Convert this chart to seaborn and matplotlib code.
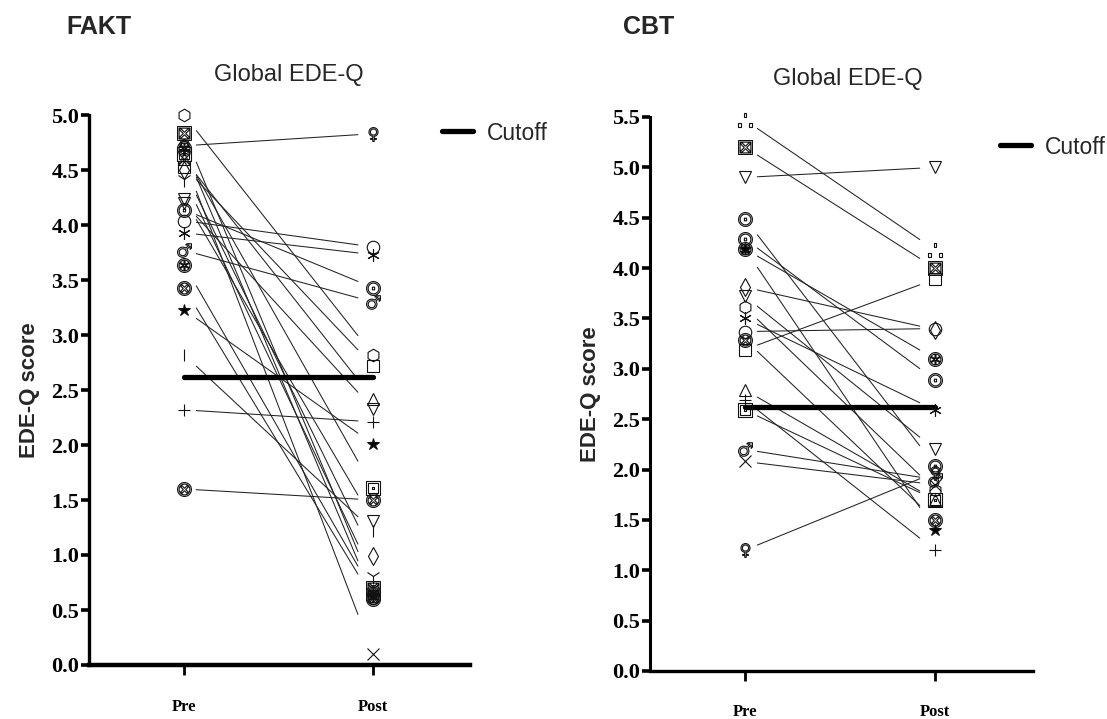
import matplotlib
matplotlib.use("Agg")
import numpy as np
import pandas as pd
import matplotlib.pyplot as plt
import seaborn as sns

# ---- data -------------------------------------------------------------
time_labels = ["Pre", "Post"]
cutoff = 2.62

fakt_pre = [5.00, 4.84, 4.72, 4.70, 4.65, 4.60, 4.53, 4.42, 4.24, 4.14, 4.04,
            3.93, 3.77, 3.64, 3.43, 3.23, 2.82, 2.32, 1.60, 4.60, 4.50, 4.20]
fakt_post = [2.82, 0.70, 4.83, 0.62, 1.61, 0.10, 2.72, 0.81, 1.31, 3.43, 3.80,
             3.73, 3.30, 0.66, 0.60, 2.01, 1.22, 2.21, 1.50, 2.42, 0.99, 2.33]

cbt_pre = [5.47, 5.20, 4.90, 4.49, 4.29, 4.19, 4.19, 3.81, 3.72, 3.61,
           3.50, 3.37, 3.29, 3.19, 2.79, 2.69, 2.59, 2.20, 2.08, 1.20]
cbt_post = [4.18, 4.00, 5.00, 2.04, 2.89, 3.10, 1.40, 3.39, 2.20, 1.80,
            2.59, 3.40, 1.50, 3.89, 1.70, 1.20, 1.70, 1.90, 1.85, 1.97]

# ---- per-subject symbols ---------------------------------------------
ASTER = (6, 2, 0)
fakt_symbols = ["h", r"$\boxtimes$", "$\u2640$", r"$\circledast$", r"$\boxdot$",
                "x", "s", "1", "v", r"$\odot$", "o", ASTER, "$\u2642$",
                r"$\circledast$", r"$\otimes$", "*", "|", "+", r"$\otimes$",
                "^", "d", "v"]
cbt_symbols = [r"$\therefore$", r"$\boxtimes$", "v", r"$\odot$", r"$\odot$",
               r"$\circledast$", "*", "d", "v", "h", ASTER, "o", r"$\otimes$",
               "s", "^", "+", r"$\boxdot$", "$\u2642$", "x", "$\u2640$"]

sns.set_theme(style="white")
plt.rcParams["font.family"] = ["Liberation Sans", "DejaVu Sans"]
plt.rcParams["mathtext.fontset"] = "dejavusans"

W, H = 1107, 719
fig = plt.figure(figsize=(W / 100, H / 100), dpi=100)


def px_axes(x0, x1, ytop, ybot):
    return fig.add_axes([x0 / W, 1 - ybot / H, (x1 - x0) / W, (ybot - ytop) / H])


def draw_panel(ax, pre, post, symbols, ymax, xlim, spine_w, bottom_w, xpad):
    # connecting lines, shortened so they stop short of the symbols
    t0, t1 = 0.065, 0.92
    rows = []
    for i, (a, b) in enumerate(zip(pre, post)):
        for t in (t0, t1):
            rows.append({"subject": i, "x": t, "y": a + (b - a) * t})
    df = pd.DataFrame(rows)
    sns.lineplot(data=df, x="x", y="y", units="subject", estimator=None,
                 color="#222222", lw=0.75, sort=False, legend=False, ax=ax)

    # cutoff reference line
    cut_df = pd.DataFrame({"x": [0, 1], "y": [cutoff, cutoff]})
    sns.lineplot(data=cut_df, x="x", y="y", color="black", lw=3.8,
                 label="Cutoff", ax=ax, zorder=4)

    for a, b, m in zip(pre, post, symbols):
        is_text = isinstance(m, str) and m.startswith("$")
        filled = m in ("*",)
        ms = 10 if is_text else 9
        if m == "1":
            ms = 11
        ax.plot([0, 1], [a, b], ls="none", marker=m, ms=ms,
                mfc="black" if filled else "none", mec="#111111",
                mew=0.8, color="#111111", zorder=5, clip_on=False)

    ax.set_xlim(*xlim)
    ax.set_ylim(0, ymax)
    ticks = np.arange(0, ymax + 0.01, 0.5)
    ax.set_yticks(ticks)
    ax.set_yticklabels([f"{v:.1f}" for v in ticks],
                       fontfamily="Liberation Serif", fontweight="bold",
                       fontsize=16)
    ax.set_xticks([0, 1])
    ax.set_xticklabels(time_labels, fontfamily="Liberation Serif",
                       fontweight="bold", fontsize=12)
    ax.tick_params(axis="y", direction="out", length=6, width=2.6, pad=1,
                   colors="black", left=True)
    ax.tick_params(axis="x", direction="out", length=7, width=2.0, pad=xpad,
                   colors="black", bottom=True)
    for s in ("top", "right"):
        ax.spines[s].set_visible(False)
    ax.spines["left"].set_linewidth(spine_w)
    ax.spines["bottom"].set_linewidth(bottom_w)
    ax.spines["left"].set_color("black")
    ax.spines["bottom"].set_color("black")
    ax.set_xlabel("")
    ax.set_ylabel("EDE-Q score", fontsize=16, fontweight="bold", labelpad=8)
    ax.set_facecolor("white")


axL = px_axes(89, 470, 115, 665)
draw_panel(axL, fakt_pre, fakt_post, fakt_symbols, 5.0, (-0.503, 1.513),
           2.4, 3.2, 17.5)
axR = px_axes(650, 1033, 117, 671)
draw_panel(axR, cbt_pre, cbt_post, cbt_symbols, 5.5, (-0.5, 1.516),
           2.2, 2.4, 16.5)

for ax, (lx, ly) in ((axL, (442, 133)), (axR, (1000, 147))):
    ax.legend(loc="center left", bbox_to_anchor=(lx / W, 1 - ly / H),
              bbox_transform=fig.transFigure, frameon=False, fontsize=16.5,
              handlelength=1.35, handletextpad=0.6, borderpad=0,
              borderaxespad=0)

fig.text(66 / W, 1 - 27 / H, "FAKT", fontsize=18, fontweight="bold",
         va="center", ha="left")
fig.text(623 / W, 1 - 27 / H, "CBT", fontsize=18, fontweight="bold",
         va="center", ha="left")
fig.text(289 / W, 1 - 75 / H, "Global EDE-Q", fontsize=17, va="center", ha="center")
fig.text(848 / W, 1 - 79 / H, "Global EDE-Q", fontsize=17, va="center", ha="center")

fig.savefig("out.png", dpi=100, facecolor="white")
